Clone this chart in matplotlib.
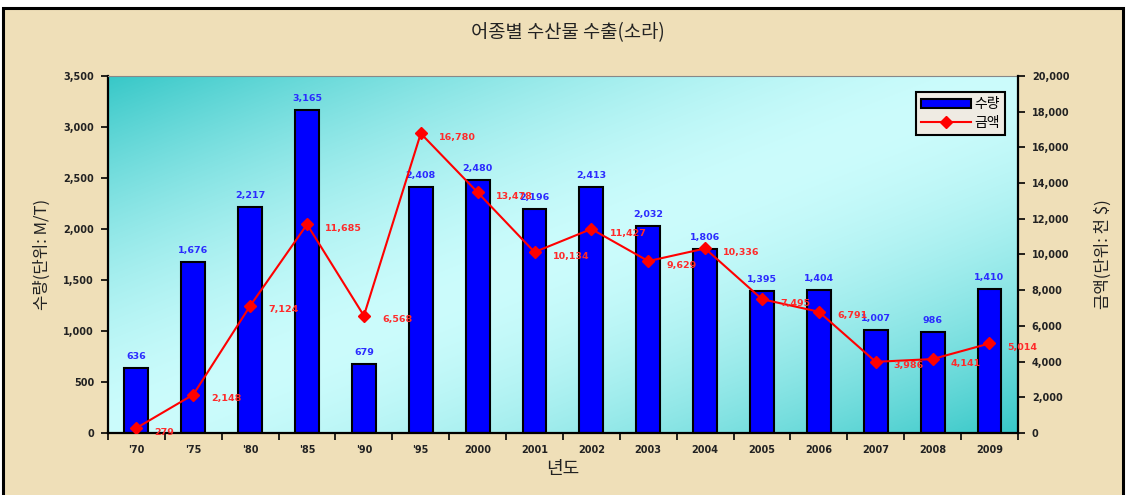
import matplotlib
matplotlib.use("Agg")
import matplotlib.pyplot as plt
import numpy as np
from matplotlib.patches import Rectangle
from matplotlib.colors import to_rgb

plt.rcParams['font.family'] = ['Noto Sans CJK KR', 'DejaVu Sans']

# 데이터
years = ["'70", "'75", "'80", "'85", "'90", "'95", "2000", "2001", "2002",
         "2003", "2004", "2005", "2006", "2007", "2008", "2009"]
quantity = [636, 1676, 2217, 3165, 679, 2408, 2480, 2196, 2413, 2032,
            1806, 1395, 1404, 1007, 986, 1410]
amount = [279, 2148, 7124, 11685, 6568, 16780, 13478, 10134, 11427, 9629,
          10336, 7495, 6791, 3986, 4141, 5014]

num_font = dict(family=['DejaVu Sans'], weight='bold')

fig = plt.figure(figsize=(11.26, 4.95), dpi=100, facecolor='white')

# 바탕 (베이지) + 테두리
fig.patches.append(Rectangle((0.003, -0.02), 0.994, 1.004, transform=fig.transFigure,
                             facecolor='#EFDFB8', edgecolor='black', linewidth=2.2,
                             zorder=-10))

ax = fig.add_axes([0.0959, 0.1253, 0.8081, 0.7212])

# 플롯 영역 그라데이션
nx, ny = 300, 150
u = np.linspace(0, 1, nx)[None, :]
v = np.linspace(1, 0, ny)[:, None]
s = (u + (1 - v)) / 2
f = 1 - np.abs(2 * s - 1) ** 1.6
dark = np.array(to_rgb('#38C8C8'))
light = np.array(to_rgb('#CCFCFC'))
grad = dark[None, None, :] + (light - dark)[None, None, :] * f[..., None]
ax.imshow(grad, extent=[0, 1, 0, 1], transform=ax.transAxes, aspect='auto',
          zorder=0, interpolation='bilinear')

x = np.arange(len(years))
ax.bar(x, quantity, width=0.42, color='#0000FF', edgecolor='black',
       linewidth=1.5, zorder=2, label='수량')
for xi, q in zip(x, quantity):
    ax.annotate(f"{q:,}", (xi, q), xytext=(0, 5), textcoords='offset points',
                ha='center', va='bottom', color='#2B2BFF', fontsize=6.8, **num_font)

ax.set_xlim(-0.5, len(years) - 0.5)
ax.set_ylim(0, 3500)
ax.set_yticks(np.arange(0, 3501, 500))
ax.set_yticklabels([f"{t:,}" for t in range(0, 3501, 500)], fontsize=7, color='#222222',
                   **num_font)
ax.set_xticks(np.arange(-0.5, len(years), 1))
ax.set_xticklabels([])
ax.set_xticks(x, minor=True)
ax.set_xticklabels(years, minor=True, fontsize=7, color='#222222', **num_font)
ax.tick_params(axis='x', which='major', direction='out', length=5, width=1.2)
ax.tick_params(axis='x', which='minor', length=0, pad=9)
ax.tick_params(axis='y', direction='out', length=5, width=1.2, pad=5)
ax.set_ylabel("수량(단위: M/T)", fontsize=12, labelpad=9, color='#222222')
ax.set_xlabel("년도", fontsize=13, labelpad=3, color='#222222')

for side in ['left', 'bottom']:
    ax.spines[side].set_linewidth(1.6)
ax.spines['top'].set_color('#888888')
ax.spines['right'].set_visible(False)

# 금액 선
ax2 = ax.twinx()
ax2.plot(x, amount, color='#FF0000', linewidth=1.5, marker='D', markersize=6,
         zorder=3, label='금액')
for xi, a in zip(x, amount):
    ax2.annotate(f"{a:,}", (xi, a), xytext=(13, -3), textcoords='offset points',
                 ha='left', va='center', color='#FF2A2A', fontsize=6.8, **num_font)
ax2.set_ylim(0, 20000)
ax2.set_yticks(np.arange(0, 20001, 2000))
ax2.set_yticklabels([f"{t:,}" for t in range(0, 20001, 2000)], fontsize=7,
                    color='#222222', **num_font)
ax2.tick_params(axis='y', direction='out', length=5, width=1.2, pad=5)
ax2.set_ylabel("금액(단위: 천 $)", fontsize=12, labelpad=18, color='#222222')
ax2.spines['right'].set_linewidth(1.6)
for side in ['left', 'bottom', 'top']:
    ax2.spines[side].set_visible(False)

h1, l1 = ax.get_legend_handles_labels()
h2, l2 = ax2.get_legend_handles_labels()
leg = ax2.legend(h1 + h2, l1 + l2, loc='upper right', bbox_to_anchor=(0.9935, 0.975),
                 fontsize=10, fancybox=False, framealpha=1, facecolor='#EFEBE3',
                 edgecolor='black', handlelength=3.6, borderpad=0.4,
                 labelspacing=0.3, handletextpad=0.2)
leg.get_frame().set_linewidth(1.5)

fig.text(0.504, 0.935, "어종별 수산물 수출(소라)", ha='center', va='center',
         fontsize=13.5, color='#222222')

fig.savefig("out.png", dpi=100, facecolor=fig.get_facecolor())
